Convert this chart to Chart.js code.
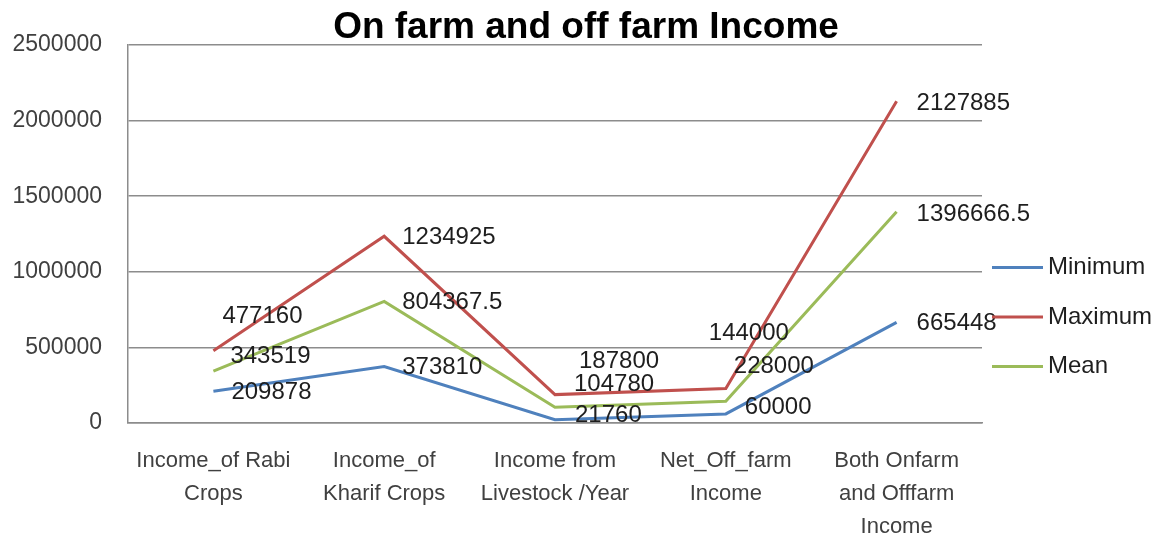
<!DOCTYPE html>
<html>
<head>
<meta charset="utf-8">
<title>On farm and off farm Income</title>
<script src="https://cdn.jsdelivr.net/npm/chart.js@4"></script>
<style>
  html, body { margin: 0; padding: 0; background: #ffffff; }
  #wrap { width: 1158px; height: 536px; position: relative; }
</style>
</head>
<body>
<div id="wrap"><canvas id="c" width="1158" height="536"></canvas></div>
<script>
// Income categories (multi-line axis labels)
const categories = [
  ['Income_of Rabi', 'Crops'],
  ['Income_of', 'Kharif Crops'],
  ['Income from', 'Livestock /Year'],
  ['Net_Off_farm', 'Income'],
  ['Both Onfarm', 'and Offfarm', 'Income']
];

// Series values
const minimumValues = [209878, 373810, 21760, 60000, 665448];
const maximumValues = [477160, 1234925, 187800, 228000, 2127885];
const meanValues = [343519, 804367.5, 104780, 144000, 1396666.5];

// Y axis ticks
const yTicks = [0, 500000, 1000000, 1500000, 2000000, 2500000];

const chartTitle = 'On farm and off farm Income';
const seriesNames = ['Minimum', 'Maximum', 'Mean'];
const seriesColors = ['#4F81BD', '#C0504D', '#9BBB59'];

// Label nudges (dx to label's left edge, dy to its centre) per series/point
const labelNudges = [
  [[18, 1], [18, 1], [20, -4], [19, -7], [20, 1]],
  [[9, -34], [18, 1], [24, -33], [8, -22], [20, 2]],
  [[17, -15], [18, 1], [19, -23], [-17, -68], [20, 3]]
];

const FONT = '"Liberation Sans", Arial, sans-serif';

// Title centred over the whole canvas
const headTitle = {
  id: 'headTitle',
  afterDraw(chart) {
    const ctx = chart.ctx;
    ctx.save();
    ctx.font = 'bold 37px ' + FONT;
    ctx.fillStyle = '#000000';
    ctx.textAlign = 'center';
    ctx.textBaseline = 'middle';
    ctx.fillText(chartTitle, chart.width / 2 + 7, 28);
    ctx.restore();
  }
};

const valueLabels = {
  id: 'valueLabels',
  afterDatasetsDraw(chart) {
    const ctx = chart.ctx;
    ctx.save();
    ctx.font = '24px ' + FONT;
    ctx.fillStyle = '#1e1e1e';
    ctx.textAlign = 'left';
    ctx.textBaseline = 'middle';
    chart.data.datasets.forEach((ds, di) => {
      const meta = chart.getDatasetMeta(di);
      meta.data.forEach((pt, i) => {
        const n = labelNudges[di][i];
        ctx.fillText(String(ds.data[i]), pt.x + n[0], pt.y + n[1]);
      });
    });
    ctx.restore();
  }
};

const sideLegend = {
  id: 'sideLegend',
  afterDraw(chart) {
    const ctx = chart.ctx;
    const area = chart.chartArea;
    const x0 = area.right + 10;
    const midY = (area.top + area.bottom) / 2 + 83;
    const gap = 49.5;
    ctx.save();
    ctx.font = '24px ' + FONT;
    ctx.textAlign = 'left';
    ctx.textBaseline = 'middle';
    chart.data.datasets.forEach((ds, di) => {
      const y = midY + (di - 1) * gap;
      ctx.strokeStyle = ds.borderColor;
      ctx.lineWidth = 3;
      ctx.beginPath();
      ctx.moveTo(x0, y);
      ctx.lineTo(x0 + 51, y);
      ctx.stroke();
      ctx.fillStyle = '#1e1e1e';
      ctx.fillText(ds.label, x0 + 56, y);
    });
    ctx.restore();
  }
};

const datasets = [minimumValues, maximumValues, meanValues].map((vals, i) => ({
  label: seriesNames[i],
  data: vals,
  borderColor: seriesColors[i],
  backgroundColor: seriesColors[i],
  borderWidth: 3,
  pointRadius: 0,
  tension: 0,
  fill: false
}));

new Chart(document.getElementById('c'), {
  type: 'line',
  data: { labels: categories, datasets },
  options: {
    responsive: false,
    animation: false,
    layout: { padding: { left: 0, right: 176, top: 45, bottom: 0 } },
    plugins: {
      legend: { display: false },
      tooltip: { enabled: false },
      title: { display: false }
    },
    scales: {
      x: {
        offset: true,
        grid: { display: false, drawTicks: false },
        border: { display: true, color: '#8c8c8c', width: 1.5 },
        ticks: {
          autoSkip: false,
          maxRotation: 0,
          minRotation: 0,
          padding: 21,
          color: '#404040',
          font: { family: FONT, size: 22, lineHeight: 1.5 }
        },
        afterFit(scale) { scale.height = 113; }
      },
      y: {
        min: 0,
        max: 2500000,
        afterBuildTicks(scale) { scale.ticks = yTicks.map(v => ({ value: v })); },
        grid: { color: '#8c8c8c', lineWidth: 1.5, drawTicks: false },
        border: { display: true, color: '#8c8c8c', width: 1.5 },
        ticks: {
          padding: 26,
          color: '#404040',
          font: { family: FONT, size: 23 },
          callback: v => String(v)
        },
        afterFit(scale) { scale.width = 128; }
      }
    }
  },
  plugins: [headTitle, valueLabels, sideLegend]
});
</script>
</body>
</html>
